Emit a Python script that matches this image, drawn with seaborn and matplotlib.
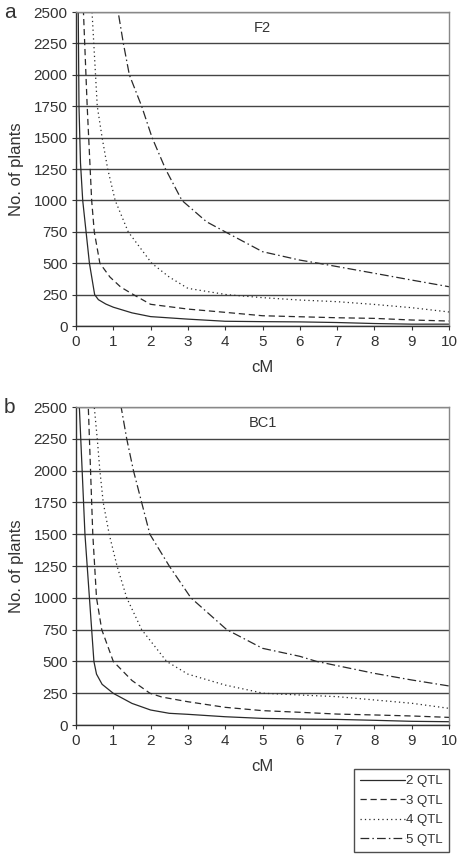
import matplotlib
matplotlib.use("Agg")
import matplotlib.pyplot as plt
import seaborn as sns
import pandas as pd

# ---- data ----
series_labels = ["2 QTL", "3 QTL", "4 QTL", "5 QTL"]

cm_a2 = [0.05, 0.06, 0.08, 0.12, 0.18, 0.27, 0.36, 0.5, 0.6, 0.8, 1, 1.5, 2, 3, 4, 5, 6, 7, 8, 9, 10]
a2 = [3000, 2500, 1750, 1300, 1000, 750, 500, 250, 210, 175, 150, 105, 75, 55, 38, 35, 33, 28, 20, 15, 15]
cm_a3 = [0.18, 0.2, 0.3, 0.42, 0.49, 0.64, 0.91, 1.2, 1.54, 2, 3, 4, 5, 6, 7, 8, 9, 10]
a3 = [2800, 2500, 1750, 1000, 750, 500, 390, 310, 250, 173, 135, 109, 82, 74, 66, 61, 48, 40]
cm_a4 = [0.4, 0.43, 0.57, 0.7, 0.85, 1.05, 1.4, 2.03, 2.5, 3, 4.04, 5, 6, 7, 8, 9, 10]
a4 = [2700, 2500, 1750, 1500, 1250, 1000, 750, 500, 390, 300, 250, 226, 207, 194, 172, 146, 112]
cm_a5 = [1.08, 1.13, 1.27, 1.43, 1.76, 2.04, 2.4, 2.84, 3.5, 4.0, 5, 6, 6.5, 8, 9, 10]
a5 = [2650, 2500, 2250, 2000, 1750, 1500, 1250, 1000, 830, 750, 592, 525, 500, 420, 366, 313]

cm_b2 = [0.07, 0.09, 0.24, 0.36, 0.42, 0.48, 0.55, 0.7, 1, 1.5, 2, 2.5, 3, 4, 5, 6, 7, 8, 9, 10]
b2 = [2800, 2500, 1500, 1000, 750, 500, 400, 320, 249, 170, 118, 92, 84, 65, 52, 47, 44, 37, 29, 26]
cm_b3 = [0.3, 0.33, 0.45, 0.55, 0.69, 1.0, 1.5, 1.98, 2.3, 3, 4, 5, 6, 7, 8, 9, 10]
b3 = [2800, 2500, 1500, 1000, 750, 500, 350, 250, 220, 183, 139, 113, 100, 86, 79, 71, 60]
cm_b4 = [0.46, 0.49, 0.57, 0.64, 0.73, 0.89, 1.1, 1.36, 1.76, 2.43, 3, 4, 5.02, 6, 7, 8, 9, 10]
b4 = [2700, 2500, 2250, 2000, 1750, 1500, 1250, 1000, 750, 500, 400, 314, 250, 236, 223, 197, 171, 131]
cm_b5 = [1.15, 1.21, 1.36, 1.54, 1.76, 1.98, 2.5, 3.08, 4.04, 5, 6, 6.45, 8, 9, 10]
b5 = [2650, 2500, 2250, 2000, 1750, 1500, 1250, 1000, 750, 603, 540, 500, 406, 354, 307]

x_ticks = list(range(0, 11))
y_ticks = list(range(0, 2501, 250))

# ---- build tables ----
def build(xs, ys):
    rows = []
    for lab, xv, yv in zip(series_labels, xs, ys):
        for a, b in zip(xv, yv):
            rows.append({"cM": a, "plants": b, "series": lab})
    return pd.DataFrame(rows)

df_a = build([cm_a2, cm_a3, cm_a4, cm_a5], [a2, a3, a4, a5])
df_b = build([cm_b2, cm_b3, cm_b4, cm_b5], [b2, b3, b4, b5])

sns.set_theme(style="white")
plt.rcParams["font.family"] = ["Liberation Sans", "DejaVu Sans"]

dashes = {"2 QTL": "", "3 QTL": (5, 3), "4 QTL": (1, 2.5), "5 QTL": (7, 2.5, 1.2, 2.5)}
line_col = "#2a2a2a"

fig = plt.figure(figsize=(4.62, 8.58), dpi=100)
ax_a = fig.add_axes([0.1645, 0.6200, 0.8074, 0.3660])
ax_b = fig.add_axes([0.1645, 0.1550, 0.8074, 0.3706])

for ax, df, title, letter in [(ax_a, df_a, "F2", "a"), (ax_b, df_b, "BC1", "b")]:
    sns.lineplot(data=df, x="cM", y="plants", style="series", dashes=dashes,
                 color=line_col, linewidth=0.9, sort=False, estimator=None,
                 ax=ax, legend=(ax is ax_b))
    ax.set_xlim(0, 10)
    ax.set_ylim(0, 2500)
    ax.set_xticks(x_ticks)
    ax.set_yticks(y_ticks)
    ax.yaxis.grid(True, color="#444444", linewidth=1.0)
    ax.xaxis.grid(False)
    ax.set_axisbelow(True)
    for s in ["left", "bottom"]:
        ax.spines[s].set_color("#333333")
        ax.spines[s].set_linewidth(1.0)
    for s in ["top", "right"]:
        ax.spines[s].set_color("#888888")
        ax.spines[s].set_linewidth(1.0)
    ax.tick_params(axis="both", which="both", direction="out", length=3, width=0.8,
                   color="#333333", labelsize=11, labelcolor="#333333",
                   bottom=True, left=True)
    ax.tick_params(axis="x", pad=3.5)
    ax.tick_params(axis="y", pad=3)
    ax.set_xlabel("cM", fontsize=12, color="#333333", labelpad=8)
    ax.set_ylabel("No. of plants", fontsize=12, color="#333333", labelpad=7)
    ax.text(0.5, 0.95, title, transform=ax.transAxes, ha="center", va="center",
            fontsize=10.5, color="#333333")
    bb = ax.get_position()
    fig.text(0.008, bb.y1, letter, fontsize=15, color="#333333", ha="left", va="center")

handles, labels = ax_b.get_legend_handles_labels()
ax_b.get_legend().remove()
for h in handles:
    h.set_color(line_col)
    h.set_linewidth(0.9)
leg = fig.legend(handles, labels, loc="center", bbox_to_anchor=(0.869, 0.0555),
                 frameon=True, fancybox=False, edgecolor="#222222", fontsize=9.5,
                 handlelength=3.4, handletextpad=0.1, labelspacing=0.55,
                 borderpad=0.45, borderaxespad=0)
leg.get_frame().set_linewidth(1.0)
for t in leg.get_texts():
    t.set_color("#333333")

fig.savefig("out.png", dpi=100, facecolor="white")
